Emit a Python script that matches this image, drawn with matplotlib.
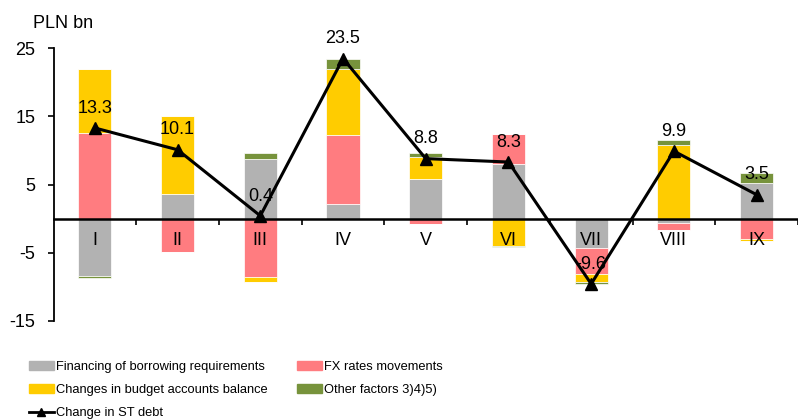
import matplotlib
matplotlib.use("Agg")
import matplotlib.pyplot as plt
from matplotlib import font_manager
from matplotlib.patches import Patch
from matplotlib.lines import Line2D
import numpy as np

categories = ["I", "II", "III", "IV", "V", "VI", "VII", "VIII", "IX"]
financing = [-8.47, 3.67, 8.70, 2.20, 5.77, 7.97, -4.26, -0.65, 5.29]
fx_rates = [12.57, -4.90, -8.65, 10.07, -0.84, 4.45, -3.92, -1.07, -2.94]
budget = [9.35, 11.35, -0.63, 9.75, 3.27, -4.07, -1.07, 10.87, -0.35]
other = [-0.2, 0.05, 0.98, 1.48, 0.59, -0.1, -0.40, 0.73, 1.47]
st_debt = [13.3, 10.1, 0.4, 23.5, 8.8, 8.3, -9.6, 9.9, 3.5]
yticks = [-15, -5, 5, 15, 25]

series = [
    ("Financing of borrowing requirements", financing, "#B2B2B2"),
    ("FX rates movements", fx_rates, "#FF7C80"),
    ("Changes in budget accounts balance", budget, "#FFCC00"),
    ("Other factors 3)4)5)", other, "#77933C"),
]

avail = {f.name for f in font_manager.fontManager.ttflist}
main_font = "Liberation Sans" if "Liberation Sans" in avail else "DejaVu Sans"
plt.rcParams["font.family"] = [main_font, "DejaVu Sans"]

fig = plt.figure(figsize=(7.98, 4.20), dpi=100)
ax = fig.add_axes([53.5 / 798, 1 - 320.7 / 420, 1 - 53.5 / 798, (320.7 - 48.3) / 420])

x = np.arange(len(categories))
width = 0.4
pos_base = np.zeros(len(x))
neg_base = np.zeros(len(x))
for name, vals, color in series:
    v = np.array(vals, dtype=float)
    pos = np.where(v > 0, v, 0)
    neg = np.where(v < 0, v, 0)
    ax.bar(x, pos, width, bottom=pos_base, color=color, edgecolor="white", linewidth=0.5, zorder=2)
    ax.bar(x, neg, width, bottom=neg_base, color=color, edgecolor="white", linewidth=0.5, zorder=2)
    pos_base += pos
    neg_base += neg

ax.plot(x, st_debt, color="black", linewidth=2.2, marker="^", markersize=8, zorder=4)
for xi, yi in zip(x, st_debt):
    ax.annotate(f"{yi:.1f}", (xi, yi), xytext=(0, 11), textcoords="offset points",
                ha="center", va="baseline", fontsize=13, zorder=5)

ax.set_ylim(-15, 25)
ax.set_xlim(-0.5, (798 - 53.5) / 83.2 - 0.5)
ax.set_yticks(yticks)
ax.set_yticklabels([str(t) for t in yticks], fontsize=13)
ax.tick_params(axis="y", direction="out", length=4, width=1.2, pad=9)

ax.spines["top"].set_visible(False)
ax.spines["right"].set_visible(False)
ax.spines["left"].set_linewidth(1.3)
ax.spines["left"].set_bounds(-15, 25)
ax.spines["bottom"].set_position(("data", 0))
ax.spines["bottom"].set_linewidth(1.8)
ax.spines["bottom"].set_zorder(3)

ax.set_xticks(x)
ax.set_xticklabels(categories, fontsize=13)
ax.set_xticks(np.arange(len(categories)) + 0.5, minor=True)
ax.tick_params(axis="x", which="major", length=0, pad=10)
ax.tick_params(axis="x", which="minor", direction="out", length=4, width=1.2)
ax.xaxis.set_zorder(3.5)

fig.text(33 / 798, 1 - 23 / 420, "PLN bn", fontsize=13, ha="left", va="center")

handles1 = [Patch(color=series[0][2]), Patch(color=series[2][2]),
            Line2D([], [], color="black", linewidth=2, marker="^", markersize=6)]
labels1 = [series[0][0], series[2][0], "Change in ST debt"]
handles2 = [Patch(color=series[1][2]), Patch(color=series[3][2])]
labels2 = [series[1][0], series[3][0]]

common = dict(frameon=False, loc="upper left", borderpad=0, borderaxespad=0,
              handlelength=1.9, handleheight=0.7, handletextpad=0.2, labelspacing=0.85,
              prop={"family": [main_font, "DejaVu Sans"], "size": 9.3})
leg1 = fig.legend(handles1, labels1, bbox_to_anchor=(29 / 798, 1 - 361 / 420), **common)
leg2 = fig.legend(handles2, labels2, bbox_to_anchor=(297 / 798, 1 - 361 / 420), **common)

fig.savefig("out.png", dpi=100)
